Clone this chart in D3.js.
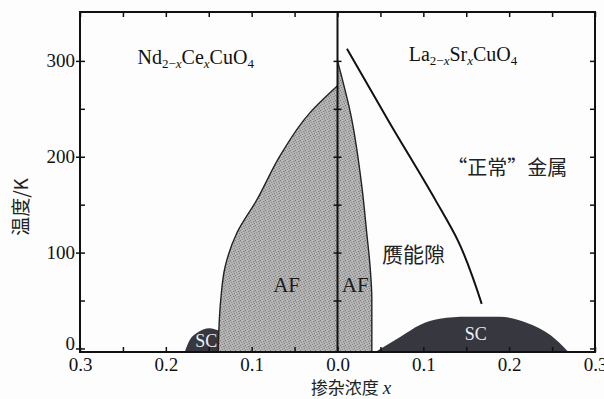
<!DOCTYPE html>
<html>
<head>
<meta charset="utf-8">
<script src="https://cdn.jsdelivr.net/npm/d3@7"></script>
<style>
  body { margin: 0; background: #fff; }
  svg { display: block; }
</style>
</head>
<body>
<svg width="604" height="399"></svg>
<script>
// phase diagram: electron doped (left, negative x) and hole doped (right)
const xTicksMajor = [-0.3, -0.2, -0.1, 0, 0.1, 0.2, 0.3];
const xTicksMinor = [-0.25, -0.15, -0.05, 0.05, 0.15, 0.25];
const yTicksMajor = [0, 100, 200, 300];
const yTicksMinor = [50, 150, 250];
const yTicksCenter = [50, 100, 150, 200, 250, 300];

// Nd2-xCexCuO4 AF boundary (x, T)
const afLeftX = [0, -0.032, -0.067, -0.094, -0.117, -0.131, -0.136, -0.139];
const afLeftT = [274, 246, 201, 155, 121, 85, 51, 0];
// La2-xSrxCuO4 AF boundary
const afRightX = [0, 0.005, 0.015, 0.0285, 0.034, 0.038, 0.040, 0.040];
const afRightT = [300, 283, 246, 168, 121, 85, 51, 0];
// SC domes
const scLeftX = [-0.178, -0.172, -0.164, -0.149, -0.139, -0.13];
const scLeftT = [0, 9, 16, 21, 19, 18];
const scRightX = [0.044, 0.073, 0.096, 0.119, 0.151, 0.189, 0.221, 0.248, 0.269];
const scRightT = [0, 12, 24.5, 31, 33, 33, 26.6, 14, 0];
// pseudogap line
const pgX = [0.011, 0.061, 0.114, 0.140, 0.168];
const pgT = [312.6, 235, 155, 113, 46.5];

const svg = d3.select("svg");
const m = {left: 80, right: 595, top: 12, bottom: 352};
const serif = "'Liberation Serif', 'Times New Roman', serif";
const cjk = "'Noto Sans CJK SC', sans-serif";

const x = d3.scaleLinear().domain([-0.3, 0.3]).range([m.left, m.right]);
const y = d3.scaleLinear().domain([-3.7, 351]).range([m.bottom, m.top]);
const yb = T => T <= 0 ? m.bottom : y(T);

svg.append("rect").attr("width", 604).attr("height", 399).attr("fill", "#fdfdfd");

// halftone-ish fill
const defs = svg.append("defs");
const pat = defs.append("pattern").attr("id", "gray")
  .attr("width", 5).attr("height", 5).attr("patternUnits", "userSpaceOnUse");
pat.append("rect").attr("width", 5).attr("height", 5).attr("fill", "#b2b2b2");
[[0, 0, "#7a7a7a"], [3, 1, "#888"], [1, 2, "#909090"], [4, 3, "#7e7e7e"], [2, 4, "#8a8a8a"],
 [2, 0, "#c4c4c4"], [0, 3, "#c0c0c0"], [4, 1, "#9c9c9c"]].forEach(([px, py, c]) =>
  pat.append("rect").attr("x", px).attr("y", py).attr("width", 1).attr("height", 1).attr("fill", c));

const zip = (xs, ts) => xs.map((v, i) => ({x: v, T: ts[i]}));

// SC domes
const dome = d3.area()
  .x(d => x(d.x)).y0(m.bottom).y1(d => yb(d.T))
  .curve(d3.curveMonotoneX);
svg.append("path").datum(zip(scLeftX, scLeftT))
  .attr("d", dome).attr("fill", "#373740");
svg.append("path").datum(zip(scRightX, scRightT))
  .attr("d", dome).attr("fill", "#373740");

// AF regions: boundary x as a function of T
const af = d3.area()
  .y(d => yb(d.T)).x0(x(0)).x1(d => x(d.x))
  .curve(d3.curveMonotoneY);
const afLine = d3.line()
  .y(d => yb(d.T)).x(d => x(d.x))
  .curve(d3.curveMonotoneY);
[zip(afLeftX, afLeftT), zip(afRightX, afRightT)].forEach(pts => {
  const s = pts.slice().reverse();
  svg.append("path").datum(s).attr("d", af).attr("fill", "url(#gray)");
  svg.append("path").datum(s).attr("d", afLine)
    .attr("fill", "none").attr("stroke", "#222").attr("stroke-width", 1.4);
});

// pseudogap line
svg.append("path").datum(zip(pgX, pgT))
  .attr("d", d3.line().x(d => x(d.x)).y(d => y(d.T)).curve(d3.curveMonotoneY))
  .attr("fill", "none").attr("stroke", "#111").attr("stroke-width", 2);

// center line with crossing ticks
svg.append("line").attr("x1", x(0)).attr("x2", x(0))
  .attr("y1", m.top).attr("y2", m.bottom).attr("stroke", "#111").attr("stroke-width", 2);
svg.append("g").attr("transform", `translate(${x(0) + 4},0)`)
  .call(d3.axisLeft(y).tickValues(yTicksCenter).tickSize(8).tickFormat(""))
  .call(g => g.select(".domain").remove())
  .selectAll("line").attr("stroke", "#111").attr("stroke-width", 1.5);

// axes
const tickStyle = g => {
  g.attr("font-family", null).attr("font-size", null);
  g.select(".domain").remove();
  g.selectAll("line").attr("stroke", "#111").attr("stroke-width", 1.5);
  g.selectAll("text").style("font-family", serif).style("font-size", "19px").attr("fill", "#111");
};
const allX = xTicksMajor.concat(xTicksMinor);
const allY = yTicksMajor.concat(yTicksMinor);

svg.append("g").attr("transform", `translate(0,${m.bottom})`)
  .call(d3.axisBottom(x).tickValues(xTicksMajor).tickSize(0).tickPadding(6)
    .tickFormat(d => Math.abs(d).toFixed(1)))
  .call(tickStyle);
svg.append("g").attr("transform", `translate(0,${m.bottom})`)
  .call(d3.axisBottom(x).tickValues(allX).tickSize(-5).tickFormat(""))
  .call(tickStyle);
svg.append("g").attr("transform", `translate(0,${m.top})`)
  .call(d3.axisTop(x).tickValues(allX).tickSize(-5).tickFormat(""))
  .call(tickStyle);
svg.append("g").attr("transform", `translate(${m.left},0)`)
  .call(d3.axisLeft(y).tickValues(yTicksMajor).tickSize(4).tickPadding(1))
  .call(tickStyle)
  .call(g => g.selectAll(".tick").filter(d => d === 0).select("text").attr("dy", "0.05em"));
svg.append("g").attr("transform", `translate(${m.left},0)`)
  .call(d3.axisLeft(y).tickValues(allY).tickSize(-5).tickFormat(""))
  .call(tickStyle);
svg.append("g").attr("transform", `translate(${m.right},0)`)
  .call(d3.axisRight(y).tickValues(allY).tickSize(-5).tickFormat(""))
  .call(tickStyle);

// frame
svg.append("rect").attr("x", m.left).attr("y", m.top)
  .attr("width", m.right - m.left).attr("height", m.bottom - m.top)
  .attr("fill", "none").attr("stroke", "#111").attr("stroke-width", 2);

// axis titles
svg.append("text").attr("x", 351).attr("y", 394).attr("text-anchor", "middle")
  .attr("font-family", cjk).attr("font-size", 17).attr("fill", "#222")
  .text("掺杂浓度 ")
  .append("tspan").attr("font-family", serif).attr("font-style", "italic").attr("font-size", 19).text("x");
svg.append("text").attr("transform", "translate(28,207) rotate(-90)")
  .attr("text-anchor", "middle").attr("font-family", cjk).attr("font-size", 19).attr("fill", "#222")
  .text("温度/K");

// compound labels
function formula(px, py, parts) {
  const t = svg.append("text").attr("x", px).attr("y", py)
    .attr("font-family", serif).attr("font-size", 20).attr("fill", "#111");
  parts.forEach(([s, kind]) => {
    const sp = t.append("tspan").text(s);
    if (kind === "sub") sp.attr("font-size", 13).attr("baseline-shift", "-4");
    if (kind === "subi") sp.attr("font-size", 13).attr("baseline-shift", "-4").attr("font-style", "italic");
  });
}
formula(x(-0.233), y(297), [["Nd"], ["2−", "sub"], ["x", "subi"], ["Ce"], ["x", "subi"], ["CuO"], ["4", "sub"]]);
formula(x(0.083), y(300), [["La"], ["2−", "sub"], ["x", "subi"], ["Sr"], ["x", "subi"], ["CuO"], ["4", "sub"]]);

svg.append("text").attr("x", x(0.128)).attr("y", y(181))
  .attr("font-family", cjk).attr("font-size", 20).attr("fill", "#222")
  .text("“正常”金属");
svg.append("text").attr("x", x(0.052)).attr("y", y(90))
  .attr("font-family", cjk).attr("font-size", 21).attr("fill", "#222")
  .text("赝能隙");

svg.append("text").attr("x", x(-0.075)).attr("y", y(59))
  .attr("font-family", serif).attr("font-size", 21).attr("fill", "#1a1a1a").text("AF");
svg.append("text").attr("x", x(0.005)).attr("y", y(59))
  .attr("font-family", serif).attr("font-size", 21).attr("fill", "#1a1a1a").text("AF");
svg.append("text").attr("x", x(-0.153)).attr("y", y(1.5)).attr("text-anchor", "middle")
  .attr("font-family", serif).attr("font-size", 18).attr("fill", "#eee").text("SC");
svg.append("text").attr("x", x(0.161)).attr("y", y(9)).attr("text-anchor", "middle")
  .attr("font-family", serif).attr("font-size", 18).attr("fill", "#eee").text("SC");
</script>
</body>
</html>
